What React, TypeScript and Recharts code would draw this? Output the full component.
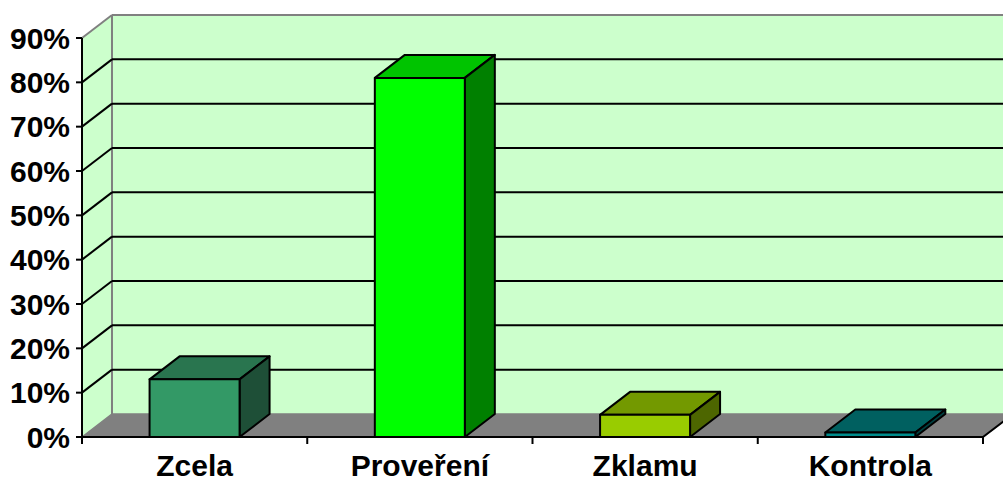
import React from 'react';
import { BarChart, Bar, XAxis, YAxis, CartesianGrid } from 'recharts';

const categories = ['Zcela', 'Proveření', 'Zklamu', 'Kontrola'];
const values = [13, 81, 5, 1];
const yTicks = [0, 10, 20, 30, 40, 50, 60, 70, 80, 90];

const frontColors = ['#339966', '#00FF00', '#99CC00', '#008C8C'];
const topColors = ['#29754F', '#00C400', '#739900', '#006060'];
const sideColors = ['#1E4F37', '#008000', '#4D6600', '#004040'];

const WALL = '#CCFFCC';
const FLOOR = '#808080';
const EDGE = '#808080';
const DX = 30;
const DY = 23;
const TICK_MARGIN = 18;
const TICK_LEN = 7;
const FONT = "'Liberation Sans', Arial, sans-serif";

const data = categories.map((name, i) => ({ name, value: values[i] }));

const GridLine = (props: any) => {
  const { x1, y1, x2, index, y, height } = props;
  const top = y;
  const bottom = y + height;
  const parts: any[] = [];
  if (index === 0) {
    parts.push(
      <g key="walls">
        <rect x={x1 + DX} y={top - DY} width={x2 - x1 + 40} height={height} fill={WALL} />
        <polygon points={`${x1},${top} ${x1 + DX},${top - DY} ${x1 + DX},${bottom - DY} ${x1},${bottom}`} fill={WALL} />
        <polygon points={`${x1},${bottom} ${x1 + DX},${bottom - DY} ${x2 + DX},${bottom - DY} ${x2},${bottom}`} fill={FLOOR} stroke={EDGE} strokeWidth={1.5} />
        <line x1={x2} y1={bottom} x2={x2 + DX} y2={bottom - DY} stroke="#000" strokeWidth={2} />
        <line x1={x1 + DX} y1={top - DY} x2={x2 + DX + 40} y2={top - DY} stroke={EDGE} strokeWidth={2} />
        <line x1={x1 + DX} y1={top - DY} x2={x1 + DX} y2={bottom - DY} stroke={EDGE} strokeWidth={2} />
        <line x1={x1} y1={top} x2={x1 + DX} y2={top - DY} stroke={EDGE} strokeWidth={2} />
      </g>
    );
  }
  const isEdge = Math.abs(y1 - top) < 0.5 || Math.abs(y1 - bottom) < 0.5;
  if (!isEdge) {
    parts.push(
      <g key="line">
        <line x1={x1} y1={y1} x2={x1 + DX} y2={y1 - DY} stroke="#000" strokeWidth={2} />
        <line x1={x1 + DX} y1={y1 - DY} x2={x2 + DX + 40} y2={y1 - DY} stroke="#000" strokeWidth={2} />
      </g>
    );
  }
  return <g key={`gl-${index}`}>{parts}</g>;
};

const Box3D = (props: any) => {
  const { x, y, width, height, payload } = props;
  let i = props.index;
  if (typeof i !== 'number') i = categories.indexOf(payload?.name);
  const x2 = x + width;
  const yb = y + height;
  return (
    <g stroke="#000" strokeWidth={2} strokeLinejoin="round">
      <polygon points={`${x},${y} ${x + DX},${y - DY} ${x2 + DX},${y - DY} ${x2},${y}`} fill={topColors[i]} />
      <polygon points={`${x2},${y} ${x2 + DX},${y - DY} ${x2 + DX},${yb - DY} ${x2},${yb}`} fill={sideColors[i]} />
      <rect x={x} y={y} width={width} height={height} fill={frontColors[i]} />
    </g>
  );
};

const CatTick = (props: any) => {
  const { x, y, payload, index, width } = props;
  let half = payload && typeof payload.offset === 'number' && payload.offset > 0 ? payload.offset : 0;
  if (!half && typeof width === 'number') half = width / categories.length / 2;
  const ly = y - TICK_MARGIN;
  return (
    <g>
      <line x1={x + half} y1={ly} x2={x + half} y2={ly + TICK_LEN} stroke="#000" strokeWidth={2} />
      {index === 0 && (
        <line x1={x - half} y1={ly} x2={x - half} y2={ly + TICK_LEN} stroke="#000" strokeWidth={2} />
      )}
      <text
        x={x}
        y={y}
        dy="0.71em"
        textAnchor="middle"
        fill="#000"
        fontSize={30}
        fontWeight="bold"
        fontFamily={FONT}
      >
        {payload.value}
      </text>
    </g>
  );
};

export default function App() {
  return (
    <div style={{ position: 'absolute', left: 0, top: 0, width: 1003, height: 481, background: '#fff' }}>
      <BarChart
        width={1003}
        height={481}
        data={data}
        margin={{ top: 38, right: 20, bottom: 0, left: 0 }}
        barCategoryGap="30%"
      >
        <CartesianGrid vertical={false} horizontal={GridLine} />
        <XAxis
          dataKey="name"
          height={44}
          axisLine={{ stroke: '#000', strokeWidth: 2 }}
          tickLine={false}
          tickSize={0}
          tickMargin={TICK_MARGIN}
          interval={0}
          tick={CatTick}
        />
        <YAxis
          width={82}
          domain={[0, 90]}
          ticks={yTicks}
          interval={0}
          tickFormatter={(v: number) => `${v}%`}
          axisLine={{ stroke: '#000', strokeWidth: 2 }}
          tickLine={{ stroke: '#000', strokeWidth: 2 }}
          tickSize={6}
          tickMargin={6}
          tick={{ fill: '#000', fontSize: 30, fontWeight: 'bold', fontFamily: FONT }}
        />
        <Bar dataKey="value" isAnimationActive={false} shape={Box3D} />
      </BarChart>
    </div>
  );
}
